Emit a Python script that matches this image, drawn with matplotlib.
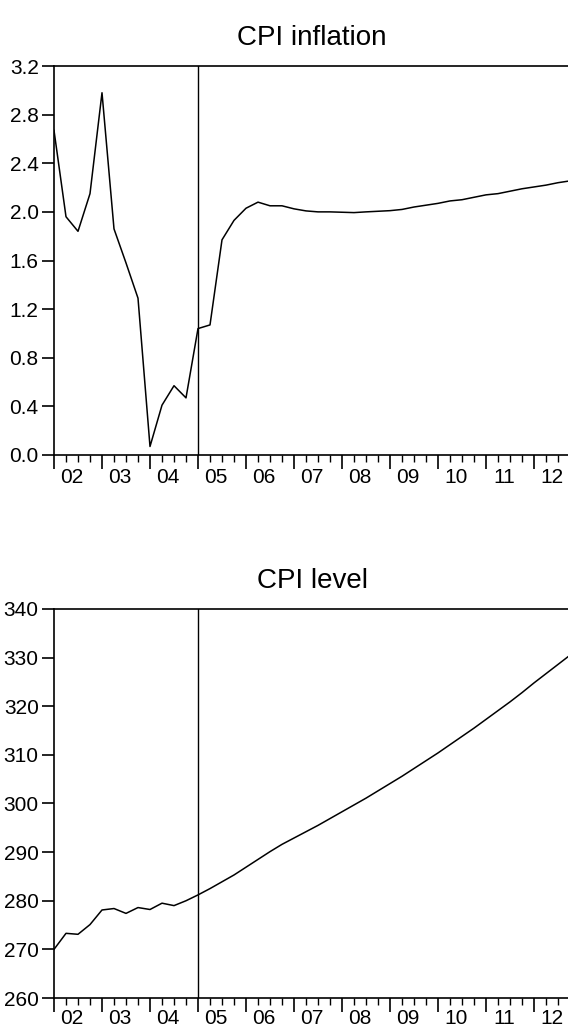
import numpy as np
import matplotlib
matplotlib.use("Agg")
import matplotlib.pyplot as plt
from matplotlib.ticker import FixedLocator, FormatStrFormatter

# ── data: quarterly, 2002Q1 .. 2012Q4 ─────────────────────────────
years = ["02", "03", "04", "05", "06", "07", "08", "09", "10", "11", "12"]

cpi_inflation = [
    2.67, 1.96, 1.84, 2.15, 2.98, 1.86, 1.58, 1.29, 0.07, 0.41, 0.57,
    0.47, 1.04, 1.07, 1.77, 1.93, 2.03, 2.08, 2.05, 2.05, 2.025, 2.008,
    2.00, 2.00, 1.997, 1.994, 2.00, 2.005, 2.01, 2.02, 2.04, 2.055,
    2.07, 2.09, 2.10, 2.12, 2.14, 2.15, 2.17, 2.19, 2.205, 2.22, 2.24,
    2.255,
]

cpi_level = [
    270.0, 273.3, 273.1, 275.1, 278.1, 278.4, 277.4, 278.6, 278.2,
    279.5, 279.0, 280.0, 281.2, 282.5, 283.9, 285.3, 286.9, 288.5,
    290.1, 291.6, 292.9, 294.2, 295.5, 296.9, 298.3, 299.7, 301.1,
    302.6, 304.1, 305.6, 307.2, 308.8, 310.4, 312.1, 313.8, 315.5,
    317.3, 319.1, 320.9, 322.8, 324.8, 326.7, 328.6, 330.5,
]

forecast_start = 12  # 2005Q1

plt.rcParams.update({
    "font.family": ["Liberation Sans", "DejaVu Sans"],
    "font.size": 15,
    "axes.linewidth": 1.2,
})

t = np.arange(len(cpi_inflation))

fig = plt.figure(figsize=(5.68, 10.30), dpi=100)
ax1 = fig.add_axes([54 / 568, 1 - 455 / 1030, 516 / 568, 389 / 1030])
ax2 = fig.add_axes([54 / 568, 1 - 998 / 1030, 516 / 568, 389 / 1030])


def style_axis(ax, title, ylim, yticks, fmt, label_off):
    ax.set_xlim(0, len(t) - 1)
    ax.set_ylim(*ylim)
    ax.set_yticks(yticks)
    ax.yaxis.set_major_formatter(FormatStrFormatter(fmt))
    ax.spines["right"].set_visible(False)
    ax.xaxis.set_major_locator(FixedLocator(np.arange(0, len(t), 4)))
    ax.xaxis.set_minor_locator(FixedLocator(np.arange(0, len(t))))
    ax.tick_params(axis="x", which="major", direction="out", length=10,
                   width=1.2, labelbottom=False)
    ax.tick_params(axis="x", which="minor", direction="out", length=5,
                   width=1.0)
    ax.tick_params(axis="y", direction="out", length=9, width=1.2,
                   pad=2, labelsize=15)
    # year labels sit in the middle of each year's four quarters
    for i, yr in enumerate(years):
        ax.annotate(yr, xy=(4 * i + 1.5, 0), xycoords=("data", "axes fraction"),
                    xytext=(0, label_off), textcoords="offset points",
                    ha="center", va="baseline", fontsize=15,
                    annotation_clip=False)
    ax.axvline(forecast_start, color="black", linewidth=1.0)
    ax.set_title(title, fontsize=20, pad=15)


ax1.plot(t, cpi_inflation, color="black", linewidth=1.1)
style_axis(ax1, "CPI inflation", (0, 3.2), np.arange(0, 3.21, 0.4), "%.1f", -20)

ax2.plot(t, cpi_level, color="black", linewidth=1.1)
style_axis(ax2, "CPI level", (260, 340), np.arange(260, 341, 10), "%d", -19)

fig.savefig("out.png", dpi=100, facecolor="white")
